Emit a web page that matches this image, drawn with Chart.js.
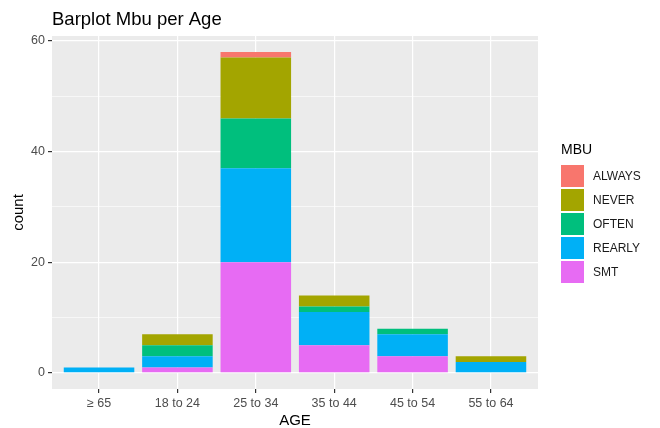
<!DOCTYPE html>
<html>
<head>
<meta charset="utf-8">
<script src="https://cdn.jsdelivr.net/npm/chart.js@4.4.0/dist/chart.umd.min.js"></script>
<style>
    html, body { margin: 0; background: #fff; }
</style>
</head>
<body>
<canvas id="mbuChart" width="660" height="428"></canvas>
<script>
// data
const ages = ['≥ 65', '18 to 24', '25 to 34', '35 to 44', '45 to 54', '55 to 64'];
const levels = ['ALWAYS', 'NEVER', 'OFTEN', 'REARLY', 'SMT'];
const always = [0, 0, 1, 0, 0, 0];
const never  = [0, 2, 11, 2, 0, 1];
const often  = [0, 2, 9, 1, 1, 0];
const rearly = [1, 2, 17, 6, 4, 2];
const smt    = [0, 1, 20, 5, 3, 0];
const countTicks = [0, 10, 20, 30, 40, 50, 60];

const colors = {
    ALWAYS: '#F8766D',
    NEVER: '#A3A500',
    OFTEN: '#00BF7D',
    REARLY: '#00B0F6',
    SMT: '#E76BF3',
};
const FONT = '"Liberation Sans", Arial, sans-serif';

function toPoints(values) {
    return values.map((v, i) => ({ x: i + 1, y: v }));
}

// bottom of the stack first
const series = [
    ['SMT', smt],
    ['REARLY', rearly],
    ['OFTEN', often],
    ['NEVER', never],
    ['ALWAYS', always],
];

const ggDecor = {
    id: 'ggDecor',
    beforeDraw(chart) {
        const { ctx, chartArea: a } = chart;
        ctx.save();
        ctx.fillStyle = '#fff';
        ctx.fillRect(0, 0, chart.width, chart.height);
        ctx.fillStyle = '#EBEBEB';
        ctx.fillRect(a.left, a.top, a.right - a.left, a.bottom - a.top);
        ctx.restore();
    },
    afterDraw(chart) {
        const { ctx } = chart;
        ctx.save();
        ctx.fillStyle = '#000';
        ctx.textBaseline = 'middle';
        ctx.font = '18.5px ' + FONT;
        ctx.fillText('Barplot Mbu per Age', 52, 20);

        // legend
        ctx.font = '14px ' + FONT;
        ctx.fillText('MBU', 561, 150);
        ctx.font = '12px ' + FONT;
        levels.forEach((lv, i) => {
            const y = 165 + i * 24;
            ctx.fillStyle = colors[lv];
            ctx.fillRect(561, y, 23, 22);
            ctx.fillStyle = '#1A1A1A';
            ctx.fillText(lv, 593, y + 11.5);
        });
        ctx.restore();
    },
};

new Chart(document.getElementById('mbuChart'), {
    type: 'bar',
    data: {
        datasets: series.map(([name, values]) => ({
            label: name,
            data: toPoints(values),
            backgroundColor: colors[name],
            borderWidth: 0,
            barPercentage: 0.9,
            categoryPercentage: 1,
        })),
    },
    options: {
        responsive: false,
        animation: false,
        layout: { padding: { top: 36, right: 122, left: 0, bottom: 0 } },
        plugins: {
            legend: { display: false },
            tooltip: { enabled: false },
        },
        scales: {
            x: {
                type: 'linear',
                stacked: true,
                offset: false,
                min: 0.4,
                max: 6.6,
                afterBuildTicks: (axis) => { axis.ticks = ages.map((_, i) => ({ value: i + 1 })); },
                afterFit: (axis) => { axis.height = 39; },
                grid: { offset: false, color: '#fff', lineWidth: 1.2, tickColor: '#333', tickLength: 4 },
                border: { display: false },
                ticks: {
                    color: '#4D4D4D',
                    font: { family: FONT, size: 12.5 },
                    padding: 3,
                    maxRotation: 0,
                    callback: (v) => ages[Math.round(v) - 1],
                },
                title: {
                    display: true,
                    text: 'AGE',
                    color: '#000',
                    font: { family: FONT, size: 15, lineHeight: 1 },
                    padding: { top: 0, bottom: 0 },
                },
            },
            y: {
                stacked: true,
                min: -2.9,
                max: 60.9,
                afterBuildTicks: (axis) => { axis.ticks = countTicks.map((v) => ({ value: v })); },
                afterFit: (axis) => { axis.width = 52; },
                grid: {
                    color: '#fff',
                    lineWidth: (c) => (c.tick && c.tick.value % 20 === 0 ? 1.2 : 0.6),
                    tickColor: (c) => (c.tick && c.tick.value % 20 === 0 ? '#333' : 'rgba(0,0,0,0)'),
                    tickLength: 4,
                },
                border: { display: false },
                ticks: {
                    color: '#4D4D4D',
                    font: { family: FONT, size: 12.5 },
                    padding: 3,
                    callback: (v) => (v % 20 === 0 ? String(v) : ''),
                },
                title: {
                    display: true,
                    text: 'count',
                    color: '#000',
                    font: { family: FONT, size: 15, lineHeight: 1.2 },
                    padding: { top: 10, bottom: 0 },
                },
            },
        },
    },
    plugins: [ggDecor],
});
</script>
</body>
</html>
